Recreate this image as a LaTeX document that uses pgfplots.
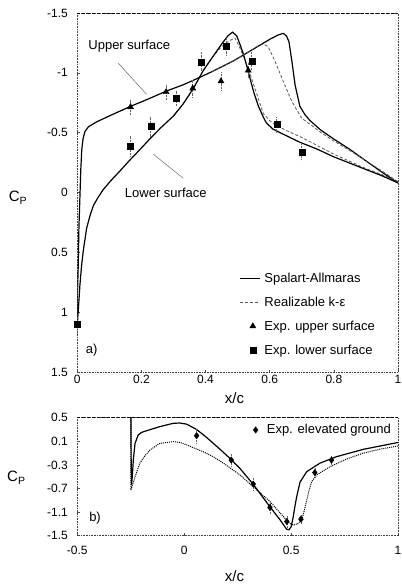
\documentclass[border=0pt]{standalone}
\usepackage{pgfplots}
\pgfplotsset{compat=1.18}
\usepackage{fontspec}
\setmainfont{Liberation Sans}
\begin{document}
\begin{tikzpicture}
\pgfplotsset{
  every axis/.append style={font=\fontsize{12bp}{14bp}\selectfont},
  /pgf/number format/assume math mode=true,
  axis line style={black!75, densely dotted, line width=0.6bp},
  tick style={black!70, line width=0.5bp},
  tick align=inside, major tick length=2.5bp,
  xtick pos=bottom, ytick pos=left,
  yticklabel style={xshift=-6bp},
  scale only axis, width=320.7bp,
  legend image code/.code={\draw[#1] (0bp,0bp) -- (20bp,0bp);},
  sa/.style={black, line width=1.2bp, no marks},
  ke/.style={black!65, line width=0.8bp, dash pattern=on 3bp off 2bp, no marks},
  ebar/.style={error bars/.cd, y dir=both, y explicit, error bar style={black!60, densely dotted, line width=0.6bp}, error mark=none},
}
% ---------------- (a) ----------------
\begin{axis}[name=top, at={(0,0)}, anchor=south west, height=359bp,
  xmin=0, xmax=1, ymin=-1.5, ymax=1.5, y dir=reverse,
  xtick={0,0.2,0.4,0.6,0.8,1}, ytick={-1.5,-1,-0.5,0,0.5,1,1.5},
  xlabel={x/c}, xlabel style={font=\fontsize{15bp}{17bp}\selectfont, at={(axis description cs:0.49,0)}, anchor=center, yshift=-26bp},
  ylabel={C\textsubscript{P}}, ylabel style={font=\fontsize{15bp}{17bp}\selectfont, rotate=-90, at={(axis description cs:-0.185,0.485)}, anchor=center},
  legend style={draw=none, fill=none, font=\fontsize{13bp}{15bp}\selectfont, at={(axis description cs:0.495,0.285)}, anchor=north west, row sep=11bp, nodes={inner sep=1bp}},
  legend cell align=left,
  legend image code/.code={\draw[#1] (0bp,0bp) -- (20bp,0bp); \path (23bp,0bp);},
]
\addplot[sa] coordinates {
(0,1.10) (0.001,0.8) (0.003,0.6) (0.005,0.3) (0.008,0.05) (0.011,-0.2) (0.014,-0.36) (0.018,-0.45) (0.024,-0.51) (0.035,-0.55) (0.06,-0.59) (0.1,-0.64) (0.166,-0.72) (0.22,-0.78) (0.28,-0.85) (0.33,-0.90) (0.372,-0.95) (0.42,-1.01) (0.487,-1.10) (0.55,-1.20) (0.60,-1.28) (0.625,-1.315) (0.642,-1.33) (0.652,-1.31) (0.66,-1.26) (0.669,-1.10) (0.679,-0.90) (0.694,-0.72) (0.71,-0.65) (0.726,-0.60) (0.76,-0.52) (0.798,-0.45) (0.85,-0.36) (0.902,-0.26) (0.95,-0.17) (1.0,-0.08)};
\addlegendentry{Spalart-Allmaras}
\addplot[ke] coordinates {
(0.3,-0.64) (0.33,-0.74) (0.362,-0.87) (0.393,-1.02) (0.424,-1.14) (0.45,-1.22) (0.475,-1.27) (0.492,-1.29) (0.505,-1.22) (0.518,-1.14) (0.535,-1.02) (0.549,-0.91) (0.565,-0.78) (0.58,-0.66) (0.6,-0.60) (0.616,-0.57) (0.65,-0.52) (0.7,-0.46) (0.75,-0.39) (0.8,-0.32) (0.85,-0.26) (0.9,-0.20) (0.95,-0.15) (1,-0.09)};
\addlegendentry{Realizable k-ε}
\addplot[sa, forget plot] coordinates {
(0,1.10) (0.004,0.95) (0.008,0.78) (0.013,0.62) (0.019,0.48) (0.029,0.30) (0.04,0.19) (0.05,0.11) (0.065,0.04) (0.081,-0.025) (0.105,-0.10) (0.133,-0.18) (0.16,-0.26) (0.185,-0.33) (0.227,-0.45) (0.26,-0.54) (0.3,-0.64) (0.33,-0.74) (0.362,-0.87) (0.393,-1.02) (0.424,-1.14) (0.45,-1.24) (0.47,-1.31) (0.484,-1.34) (0.497,-1.31) (0.507,-1.24) (0.52,-1.14) (0.535,-0.99) (0.55,-0.84) (0.565,-0.72) (0.58,-0.63) (0.59,-0.58) (0.61,-0.53) (0.64,-0.49) (0.694,-0.42) (0.75,-0.36) (0.798,-0.30) (0.85,-0.245) (0.902,-0.19) (0.95,-0.14) (1.0,-0.08)};
\addplot[ke, forget plot] coordinates {
(0.42,-1.01) (0.487,-1.10) (0.53,-1.17) (0.56,-1.22) (0.58,-1.24) (0.595,-1.22) (0.616,-1.10) (0.642,-0.93) (0.669,-0.76) (0.70,-0.62) (0.726,-0.57) (0.76,-0.50) (0.8,-0.43) (0.85,-0.35) (0.9,-0.265) (0.95,-0.18) (1,-0.09)};
\addplot[forget plot, only marks, mark=triangle*, mark size=3.5bp, black, ebar] coordinates {
(0.166,-0.714) +- (0,0.07) (0.277,-0.84) +- (0,0.07) (0.36,-0.87) +- (0,0.08) (0.448,-0.93) +- (0,0.08) (0.533,-1.02) +- (0,0.07)};
\addlegendimage{legend image code/.code={\path[black] plot[mark=triangle*, mark size=3.5bp] coordinates {(13bp,0bp)}; \path (0bp,0bp) (23bp,0bp);}}
\addlegendentry{Exp. upper surface}
\addplot[forget plot, only marks, mark=square*, mark size=3bp, black, ebar] coordinates {
(0,1.10) +- (0,0.08) (0.166,-0.39) +- (0,0.09) (0.229,-0.55) +- (0,0.09) (0.308,-0.79) +- (0,0.06) (0.386,-1.09) +- (0,0.09) (0.464,-1.22) +- (0,0.08) (0.544,-1.10) +- (0,0.08) (0.622,-0.567) +- (0,0.06) (0.70,-0.34) +- (0,0.07)};
\addlegendimage{legend image code/.code={\path[black] plot[mark=square*, mark size=3bp] coordinates {(13bp,0bp)}; \path (0bp,0bp) (23bp,0bp);}}
\addlegendentry{Exp. lower surface}
\node[font=\fontsize{13bp}{15bp}\selectfont] at (axis cs:0.162,-1.22) {Upper surface};
\draw[black!70, line width=0.4bp] (axis cs:0.128,-1.08) -- (axis cs:0.216,-0.82);
\node[font=\fontsize{13bp}{15bp}\selectfont] at (axis cs:0.276,0.0) {Lower surface};
\draw[black!70, line width=0.4bp] (axis cs:0.237,-0.32) -- (axis cs:0.33,-0.12);
\node[font=\fontsize{13bp}{15bp}\selectfont] at (axis cs:0.045,1.32) {a)};
\draw[black, densely dashed, line width=0.6bp] (axis description cs:0,1) -- (axis description cs:1,1);
\end{axis}
% ---------------- (b) ----------------
\begin{axis}[name=bot, at={(0,-163.7bp)}, anchor=south west, height=118bp,
  xmin=-0.5, xmax=1, ymin=-1.5, ymax=0.5,
  xtick={-0.5,0,0.5,1}, ytick={-1.5,-1.1,-0.7,-0.3,0.1,0.5},
  yticklabel style={/pgf/number format/.cd, fixed, precision=1},
  xticklabel style={yshift=-7bp},
  xlabel={x/c}, xlabel style={font=\fontsize{15bp}{17bp}\selectfont, at={(axis description cs:0.49,0)}, anchor=center, yshift=-40bp},
  ylabel={C\textsubscript{P}}, ylabel style={font=\fontsize{15bp}{17bp}\selectfont, rotate=-90, at={(axis description cs:-0.19,0.49)}, anchor=center},
  legend style={draw=none, fill=none, font=\fontsize{13bp}{15bp}\selectfont, at={(axis description cs:0.505,0.896)}, anchor=west, nodes={inner sep=1bp}},
  legend cell align=left,
]
\addplot[sa, forget plot] coordinates {
(-0.25,1.0) (-0.249,0.5) (-0.248,-0.3) (-0.246,-0.64) (-0.242,-0.45) (-0.238,-0.22) (-0.23,0.066) (-0.215,0.207) (-0.2,0.25) (-0.175,0.28) (-0.113,0.35) (-0.051,0.405) (-0.02,0.41) (0.012,0.39) (0.058,0.30) (0.1,0.18) (0.136,0.066) (0.175,-0.06) (0.214,-0.19) (0.261,-0.36) (0.323,-0.63) (0.36,-0.81) (0.401,-1.01) (0.448,-1.23) (0.479,-1.39) (0.49,-1.40) (0.5,-1.35) (0.51,-1.18) (0.518,-1.0) (0.526,-0.84) (0.542,-0.59) (0.573,-0.415) (0.635,-0.27) (0.713,-0.16) (0.838,-0.036) (1.0,0.08)};
\addplot[black, line width=1bp, densely dotted, no marks, forget plot] coordinates {
(-0.25,1.0) (-0.249,0.5) (-0.249,-0.725) (-0.24,-0.62) (-0.23,-0.5) (-0.207,-0.27) (-0.185,-0.15) (-0.16,-0.047) (-0.113,0.066) (-0.051,0.095) (-0.02,0.08) (0.012,0.04) (0.05,-0.02) (0.089,-0.076) (0.14,-0.17) (0.183,-0.27) (0.261,-0.47) (0.323,-0.67) (0.401,-0.92) (0.45,-1.12) (0.49,-1.28) (0.51,-1.32) (0.53,-1.30) (0.55,-1.23) (0.56,-1.1) (0.573,-0.9) (0.585,-0.72) (0.596,-0.585) (0.62,-0.47) (0.682,-0.33) (0.76,-0.2) (0.838,-0.1) (0.92,-0.03) (1,0.02)};
\addplot[forget plot, only marks, mark=diamond*, mark size=3.2bp, black, ebar] coordinates {
(0.058,0.195) +- (0,0.12) (0.22,-0.217) +- (0,0.1) (0.323,-0.625) +- (0,0.1) (0.401,-1.02) +- (0,0.1) (0.48,-1.26) +- (0,0.1) (0.546,-1.22) +- (0,0.08) (0.611,-0.43) +- (0,0.08) (0.689,-0.22) +- (0,0.08)};
\addlegendimage{legend image code/.code={\path[black] plot[mark=diamond*, mark size=3.2bp] coordinates {(13bp,0bp)}; \path (0bp,0bp) (23bp,0bp);}}
\addlegendentry{Exp. elevated ground}
\node[font=\fontsize{13bp}{15bp}\selectfont] at (axis cs:-0.417,-1.205) {b)};
\draw[black, densely dashed, line width=0.6bp] (axis description cs:0,1) -- (axis description cs:1,1);
\end{axis}
\pgfresetboundingbox
\path[use as bounding box] (-77.3bp,-212bp) rectangle (324.7bp,372bp);
\end{tikzpicture}
\end{document}
